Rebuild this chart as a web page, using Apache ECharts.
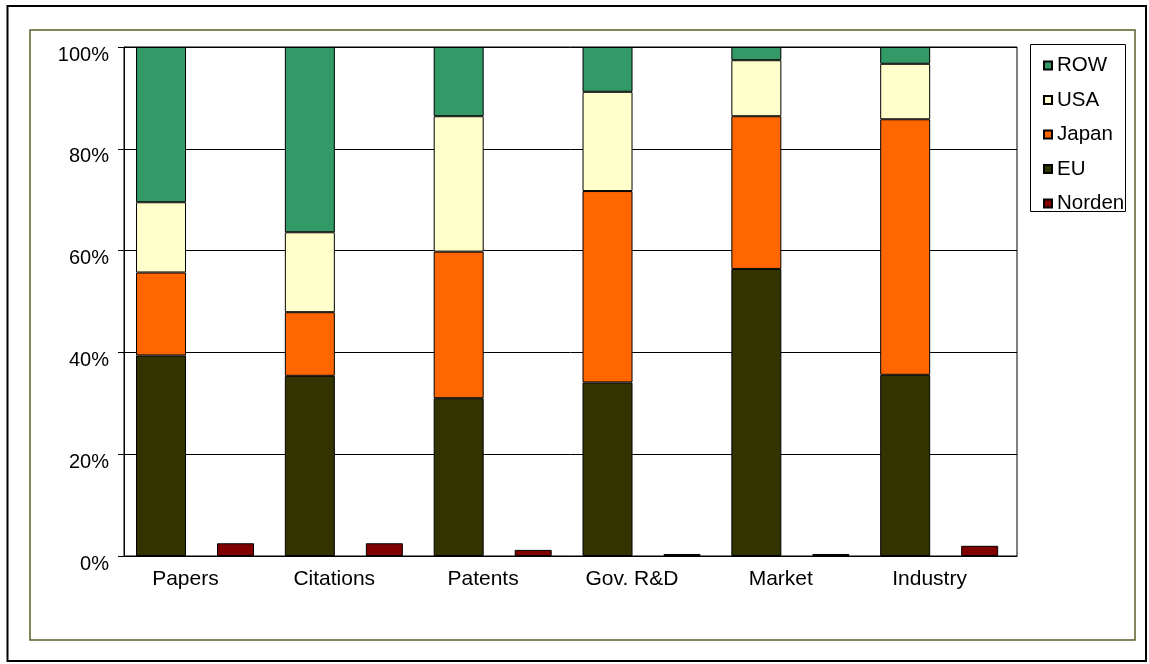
<!DOCTYPE html>
<html><head><meta charset="utf-8">
<script src="https://cdn.jsdelivr.net/npm/echarts@6/dist/echarts.min.js"></script>
<style>html,body{margin:0;padding:0;background:#fff}#c{width:1149px;height:664px}</style>
</head><body><div id="c"></div>
<script>
const categories = ['Papers', 'Citations', 'Patents', 'Gov. R&D', 'Market', 'Industry'];
const euValues = [39.4, 35.4, 31.0, 34.1, 56.4, 35.6];
const japanValues = [16.3, 12.5, 28.8, 37.6, 30.0, 50.2];
const usaValues = [13.8, 15.7, 26.6, 19.5, 11.0, 10.9];
const rowValues = [30.5, 36.4, 13.6, 8.8, 2.6, 3.3];
const nordenValues = [2.5, 2.5, 1.2, 0.4, 0.4, 2.0];
const yTicks = [0, 20, 40, 60, 80, 100];
const legendOrder = ['ROW', 'USA', 'Japan', 'EU', 'Norden'];

const FONT = 'Liberation Sans, Arial, sans-serif';
const chart = echarts.init(document.getElementById('c'), null, {renderer: 'canvas'});

function stackSeries(name, data, color) {
  return {
    name: name, type: 'bar', stack: 'total', data: data, barWidth: 50, barGap: '62%',
    xAxisIndex: 1, yAxisIndex: 1,
    itemStyle: {color: color, borderColor: '#000', borderWidth: 1},
    emphasis: {disabled: true}
  };
}

const yMin = yTicks[0], yMax = yTicks[yTicks.length - 1], yStep = yTicks[1] - yTicks[0];

chart.setOption({
  animation: false,
  backgroundColor: '#fff',
  textStyle: {fontFamily: FONT},
  grid: [
    {left: 124, right: 132, top: 47, bottom: 108, show: true, borderColor: '#000', borderWidth: 1, backgroundColor: 'transparent'},
    {left: 120.6, right: 135.4, top: 47, bottom: 108}
  ],
  xAxis: [{
    type: 'category', data: categories, gridIndex: 0,
    axisLine: {lineStyle: {color: '#000', width: 1}},
    axisTick: {show: false},
    axisLabel: {color: '#000', fontSize: 21, fontFamily: FONT, margin: 13, padding: [0, 26, 0, 0], interval: 0}
  }, {
    type: 'category', data: categories, gridIndex: 1, show: false
  }],
  yAxis: [{
    type: 'value', min: yMin, max: yMax, interval: yStep, gridIndex: 0,
    axisLine: {show: true, lineStyle: {color: '#000', width: 1}},
    axisTick: {show: true, length: 6, lineStyle: {color: '#000'}},
    splitLine: {show: true, lineStyle: {color: '#000', width: 1}},
    axisLabel: {color: '#000', fontSize: 20, fontFamily: FONT, margin: 15, verticalAlign: 'top', lineHeight: 16, formatter: '{value}%'}
  }, {
    type: 'value', min: yMin, max: yMax, interval: yStep, gridIndex: 1, show: false, splitLine: {show: false}
  }],
  legend: {
    data: legendOrder, orient: 'vertical', left: 1043, top: 55, padding: 0,
    itemWidth: 8, itemHeight: 8, itemGap: 13.5, itemTextGap: 5, icon: 'rect',
    textStyle: {color: '#000', fontSize: 20.5, fontFamily: FONT}
  },
  graphic: [
    {type: 'rect', shape: {x: 7.5, y: 6, width: 1138.5, height: 655}, style: {fill: 'none', stroke: '#000', lineWidth: 2}, silent: true},
    {type: 'rect', shape: {x: 30, y: 30, width: 1105, height: 610}, style: {fill: 'none', stroke: '#5c5c29', lineWidth: 1.5}, silent: true},
    {type: 'rect', shape: {x: 1030.5, y: 44.5, width: 95, height: 167}, style: {fill: 'none', stroke: '#000', lineWidth: 1}, silent: true}
  ],
  series: [
    stackSeries('EU', euValues, '#333300'),
    stackSeries('Japan', japanValues, '#FF6600'),
    stackSeries('USA', usaValues, '#FFFFCC'),
    stackSeries('ROW', rowValues, '#339966'),
    {
      name: 'Norden', type: 'bar', stack: 'norden', data: nordenValues, barWidth: 37,
      xAxisIndex: 1, yAxisIndex: 1,
      itemStyle: {color: '#800000', borderColor: '#000', borderWidth: 1},
      emphasis: {disabled: true}
    }
  ]
});
</script></body></html>
